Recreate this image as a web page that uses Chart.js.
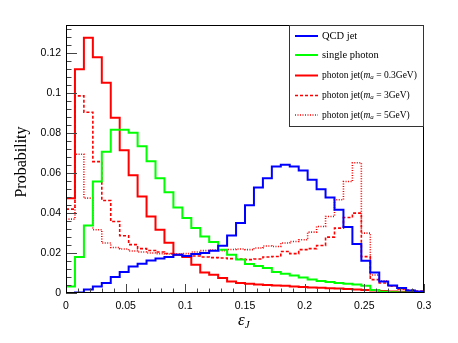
<!DOCTYPE html>
<html><head><meta charset="utf-8">
<script src="https://cdn.jsdelivr.net/npm/chart.js@4.4.0/dist/chart.umd.min.js"></script>
<style>html,body{margin:0;padding:0;background:#fff;}canvas{display:block}</style>
</head><body>
<canvas id="c" width="458" height="343"></canvas>
<script>
// ---- data ----
const binWidth = 0.0075;           // 40 bins from 0 to 0.3
const xTicks = [0, 0.05, 0.1, 0.15, 0.2, 0.25, 0.3];
const yTicks = [0, 0.02, 0.04, 0.06, 0.08, 0.1, 0.12];
const xTitle = 'ε_J';
const yTitle = 'Probability';

const qcdJet = [0.0, 0.0003, 0.0017, 0.0033, 0.005, 0.008, 0.0105, 0.0133, 0.0147, 0.0163,
  0.0173, 0.018, 0.0192, 0.0185, 0.0195, 0.02, 0.0212, 0.0237, 0.0288, 0.035,
  0.044, 0.0528, 0.0575, 0.0633, 0.0642, 0.0633, 0.0613, 0.0567, 0.052, 0.0478,
  0.0417, 0.033, 0.0245, 0.0162, 0.0103, 0.0058, 0.0037, 0.0025, 0.0013, 0.0008];
const singlePhoton = [0.0033, 0.018, 0.0338, 0.0558, 0.0707, 0.0817, 0.0817, 0.0803, 0.0735, 0.066,
  0.0575, 0.0505, 0.0428, 0.0375, 0.0325, 0.0283, 0.0255, 0.0217, 0.0192, 0.0168,
  0.0145, 0.0135, 0.0125, 0.0105, 0.0097, 0.0088, 0.0077, 0.0068, 0.006, 0.0055,
  0.005, 0.0046, 0.0042, 0.0036, 0.0015, 0.0006, 0.0004, 0.0003, 0.0002, 0.0001];
const photonJet03 = [0.0475, 0.112, 0.1278, 0.118, 0.1053, 0.0878, 0.0715, 0.059, 0.0483, 0.0383,
  0.0317, 0.0252, 0.0192, 0.018, 0.0142, 0.0103, 0.0092, 0.0075, 0.0058, 0.005,
  0.0046, 0.0042, 0.004, 0.0038, 0.0036, 0.0033, 0.003, 0.0028, 0.0026, 0.0024,
  0.0022, 0.002, 0.0018, 0.0015, 0.0012, 0.001, 0.0008, 0.0006, 0.0005, 0.0004];
const photonJet3 = [0.042, 0.0987, 0.0905, 0.0658, 0.0463, 0.0358, 0.0287, 0.0242, 0.0222, 0.0213,
  0.0205, 0.0198, 0.0192, 0.0188, 0.0185, 0.018, 0.0177, 0.0175, 0.0172, 0.017,
  0.0167, 0.017, 0.018, 0.0183, 0.0208, 0.0197, 0.0217, 0.0222, 0.0238, 0.028,
  0.0325, 0.0378, 0.04, 0.0182, 0.0067, 0.005, 0.0035, 0.002, 0.0015, 0.001];
const photonJet5 = [0.037, 0.0695, 0.0475, 0.0317, 0.025, 0.0228, 0.022, 0.021, 0.0205, 0.02,
  0.0197, 0.0195, 0.0195, 0.0198, 0.0205, 0.0212, 0.0215, 0.0212, 0.0218, 0.022,
  0.0217, 0.0225, 0.0235, 0.0233, 0.025, 0.0258, 0.0267, 0.0305, 0.0333, 0.0383,
  0.0467, 0.0558, 0.0652, 0.03, 0.009, 0.006, 0.0035, 0.002, 0.001, 0.0005];

const seriesLabels = ['QCD jet', 'single photon', 'photon jet(ma = 0.3GeV)', 'photon jet(ma = 3GeV)', 'photon jet(ma = 5GeV)'];
const seriesColors = ['#0000ff', '#00ff00', '#ff0000', '#ff0000', '#ff0000'];
const seriesDashes = [[], [], [], [3, 2], [1, 1.5]];
const seriesValues = [qcdJet, singlePhoton, photonJet03, photonJet3, photonJet5];

// ---- build histogram step points ----
function toSteps(vals) {
  const pts = vals.map((v, i) => ({ x: i * binWidth, y: v }));
  pts.push({ x: vals.length * binWidth, y: vals[vals.length - 1] });
  return pts;
}

const datasets = seriesValues.map((vals, i) => ({
  label: seriesLabels[i],
  data: toSteps(vals),
  borderColor: seriesColors[i],
  borderDash: seriesDashes[i],
  borderWidth: i >= 3 ? 1.6 : 2,
  stepped: 'before',
  pointRadius: 0,
  fill: false,
  order: i
}));

const fmt = v => String(+(+v).toFixed(3));

function richText(ctx, x, y, segs) {
  let cx = x;
  for (const s of segs) {
    ctx.font = s.font;
    ctx.fillText(s.t, cx, y + (s.dy || 0));
    cx += ctx.measureText(s.t).width;
  }
}

const decor = {
  id: 'decor',
  afterDraw(chart) {
    const { ctx, chartArea: a, scales: { x, y } } = chart;
    ctx.save();
    // tick marks (inside frame)
    ctx.strokeStyle = '#444';
    ctx.lineWidth = 1;
    ctx.beginPath();
    for (let k = 0; k <= 30; k++) {
      const px = Math.round(x.getPixelForValue(k * 0.01)) + 0.5;
      const L = k % 5 === 0 ? 9 : 4.5;
      ctx.moveTo(px, a.bottom); ctx.lineTo(px, a.bottom - L);
    }
    for (let k = 0; k * 0.004 <= y.max; k++) {
      const py = Math.round(y.getPixelForValue(k * 0.004)) + 0.5;
      const L = k % 5 === 0 ? 11 : 5.5;
      ctx.moveTo(a.left, py); ctx.lineTo(a.left + L, py);
    }
    ctx.stroke();
    // frame
    ctx.strokeStyle = '#000';
    ctx.strokeRect(a.left + 0.5, a.top + 0.5, a.right - a.left - 1, a.bottom - a.top - 1);

    // legend
    const lx0 = a.right - 135, ly0 = a.top, lx1 = a.right, ly1 = a.top + 102;
    ctx.fillStyle = '#fff';
    ctx.fillRect(lx0, ly0, lx1 - lx0, ly1 - ly0);
    ctx.strokeStyle = '#333';
    ctx.strokeRect(lx0 + 0.5, ly0 + 0.5, lx1 - lx0 - 1, ly1 - ly0 - 1);
    const rows = [11, 30, 50.5, 70.5, 90];
    const serif = '"Liberation Serif", "Times New Roman", serif';
    rows.forEach((ry, i) => {
      const yy = ly0 + ry;
      ctx.strokeStyle = seriesColors[i];
      ctx.lineWidth = i >= 3 ? 1.6 : 2;
      ctx.setLineDash(seriesDashes[i]);
      ctx.beginPath(); ctx.moveTo(lx0 + 6, yy); ctx.lineTo(lx0 + 29, yy); ctx.stroke();
      ctx.setLineDash([]);
      ctx.fillStyle = '#000';
      ctx.textBaseline = 'middle';
      ctx.textAlign = 'left';
      const tx = lx0 + 33;
      if (i < 2) {
        ctx.font = '10.5px ' + serif;
        ctx.fillText(seriesLabels[i], tx, yy);
      } else {
        const mass = seriesLabels[i].split('= ')[1];
        richText(ctx, tx, yy, [
          { t: 'photon jet(', font: '9.5px ' + serif },
          { t: 'm', font: 'italic 9.5px ' + serif },
          { t: 'a', font: 'italic 7px ' + serif, dy: 2 },
          { t: ' = ' + mass, font: '9.5px ' + serif }
        ]);
      }
    });

    // axis titles
    ctx.fillStyle = '#000';
    ctx.save();
    ctx.translate(22, (a.top + a.bottom) / 2 + 3);
    ctx.rotate(-Math.PI / 2);
    ctx.font = '16px ' + serif;
    ctx.textAlign = 'center';
    ctx.textBaseline = 'middle';
    ctx.fillText(yTitle, 0, 0);
    ctx.restore();
    ctx.textAlign = 'left';
    ctx.textBaseline = 'alphabetic';
    const parts = xTitle.split('_');
    richText(ctx, 238, 325, [
      { t: parts[0], font: 'italic 17px ' + serif },
      { t: parts[1], font: 'italic 11px ' + serif, dy: 3 }
    ]);
    ctx.restore();
  }
};

new Chart(document.getElementById('c'), {
  type: 'line',
  data: { datasets },
  options: {
    responsive: false,
    animation: false,
    devicePixelRatio: 1,
    layout: { padding: { left: 0, right: 34, top: 25, bottom: 0 } },
    plugins: { legend: { display: false }, tooltip: { enabled: false } },
    scales: {
      x: {
        type: 'linear', min: 0, max: 0.3,
        grid: { display: false, drawTicks: false },
        border: { display: false },
        afterBuildTicks: s => { s.ticks = xTicks.map(v => ({ value: v })); },
        afterFit: s => { s.height = 50; },
        ticks: { autoSkip: false, maxRotation: 0, padding: 7, color: '#000',
          font: { family: '"Liberation Sans", Arial, sans-serif', size: 10.5 },
          callback: fmt }
      },
      y: {
        type: 'linear', min: 0, max: 0.1342,
        grid: { display: false, drawTicks: false },
        border: { display: false },
        afterBuildTicks: s => { s.ticks = yTicks.map(v => ({ value: v })); },
        afterFit: s => { s.width = 66; },
        ticks: { autoSkip: false, padding: 5, color: '#000',
          font: { family: '"Liberation Sans", Arial, sans-serif', size: 10.5 },
          callback: fmt }
      }
    }
  },
  plugins: [decor]
});
</script>
</body></html>
